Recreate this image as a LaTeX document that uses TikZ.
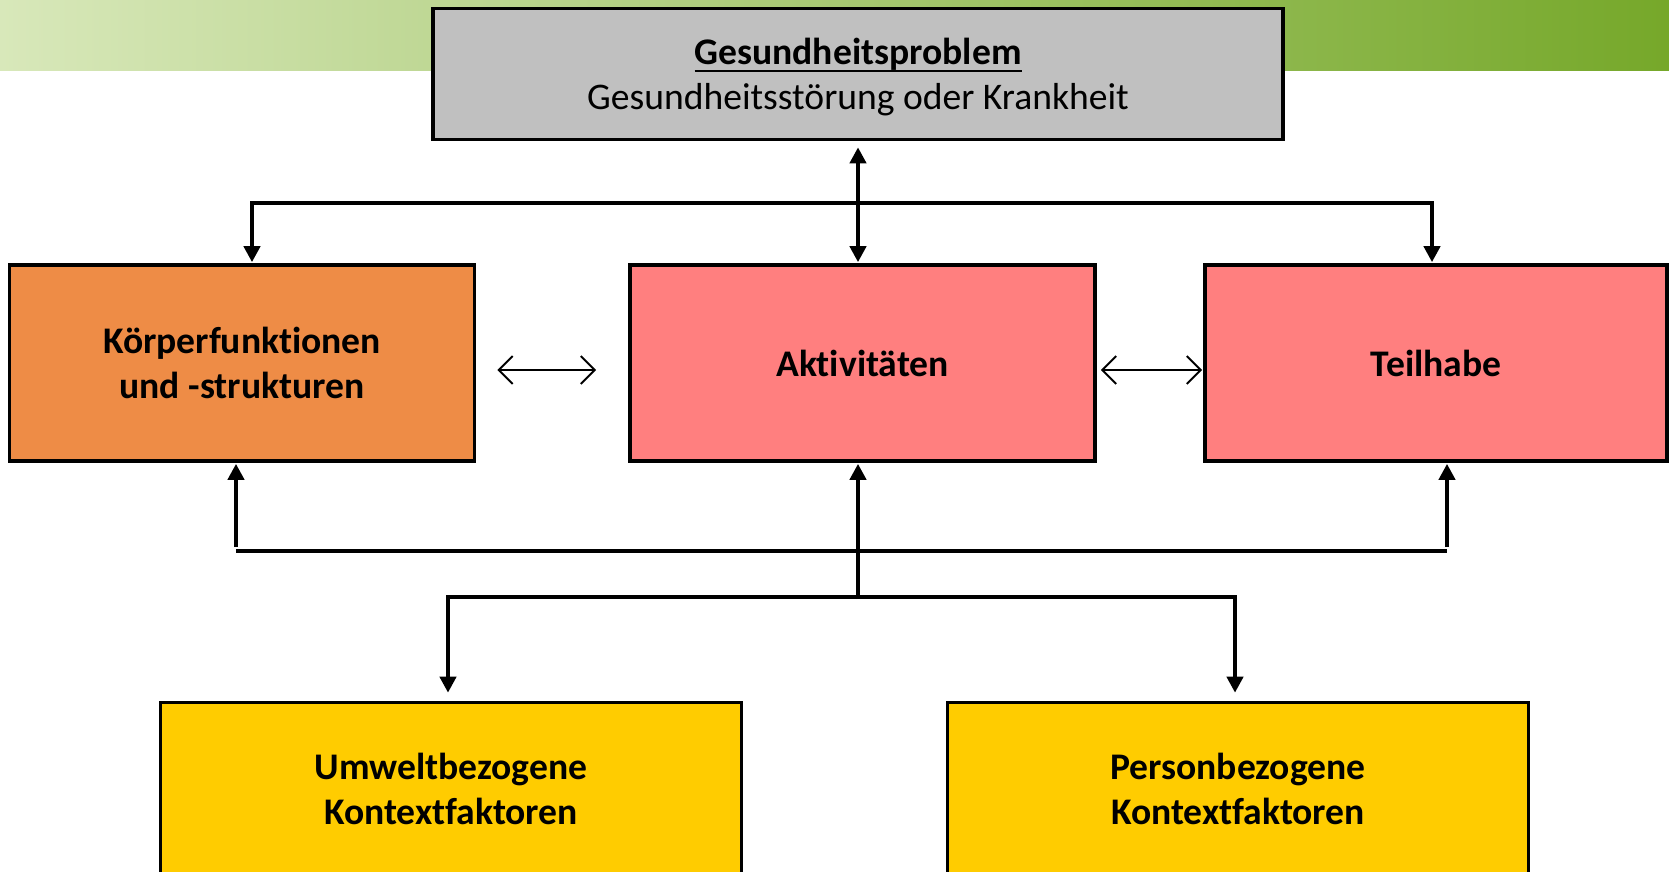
\documentclass[tikz,border=0pt]{standalone}
\usepackage{fontspec}
\setmainfont[Ligatures=CommonOff]{Carlito}
\usetikzlibrary{arrows.meta}
\definecolor{grayfill}{HTML}{C0C0C0}
\definecolor{orangefill}{HTML}{EE8C46}
\definecolor{pinkfill}{HTML}{FF7F7F}
\definecolor{yellowfill}{HTML}{FFCC00}
\definecolor{bannerL}{HTML}{D8E8BA}
\definecolor{bannerR}{HTML}{76A82A}
\newcommand{\myul}[1]{{\setbox0\hbox{#1}\rlap{\rule[-7.5pt]{\wd0}{2pt}}\box0}}
\begin{document}
\begin{tikzpicture}[x=1pt,y=-1pt,
  box/.style={draw=black, line width=3.6pt, inner sep=0pt, align=center,
    font=\fontsize{37.6}{44.6}\selectfont\bfseries},
  conn/.style={line width=4.7pt, line cap=butt},
  arr/.style={conn, -{Triangle[length=16pt,width=16pt]}},
  darr/.style={conn, {Triangle[length=16pt,width=16pt]}-{Triangle[length=16pt,width=16pt]}},
  harr/.style={line width=2pt, {Straight Barb[length=14pt,width=28pt,line width=2pt]}-{Straight Barb[length=14pt,width=28pt,line width=2pt]}}
]
\useasboundingbox (0,0) rectangle (1669,871);
\shade[left color=bannerL, right color=bannerR] (0,0) rectangle (1669,70);

\node[box, fill=grayfill, minimum width=850pt, minimum height=131pt] (gp) at (858,74) {};
\node[align=center, inner sep=0pt, font=\fontsize{37.6}{45}\selectfont] (gptext) at (858,77.2)
  {\textbf{\myul{Gesundheitsproblem}}\\Gesundheitsstörung oder Krankheit};
\node[box, fill=orangefill, minimum width=465pt, minimum height=196pt] (kf) at (242,363)
  {Körperfunktionen\\und -strukturen};
\node[box, fill=pinkfill, minimum width=465pt, minimum height=196pt] (ak) at (862.5,363)
  {Aktivitäten};
\node[box, fill=pinkfill, minimum width=462pt, minimum height=196pt] (th) at (1436,363)
  {Teilhabe};
\node[box, fill=yellowfill, minimum width=581pt, minimum height=173pt] (uk) at (451,789)
  {Umweltbezogene\\Kontextfaktoren};
\node[box, fill=yellowfill, minimum width=581pt, minimum height=173pt] (pk) at (1238,789)
  {Personbezogene\\Kontextfaktoren};

% top bus
\coordinate (tbus) at (858,203);
\draw[darr, shorten <=6pt, shorten >=1pt] (gp.south) -- (gp.south |- ak.north);
\draw[arr, shorten >=1pt] (tbus) -| ([xshift=10pt]kf.north);
\draw[arr, shorten >=1pt] (tbus) -| ([xshift=-4pt]th.north);

% side arrows
\draw[harr, shorten <=21pt, shorten >=32pt] ([yshift=-7pt]kf.east) -- ([yshift=-7pt]ak.west);
\draw[harr, shorten <=4pt, shorten >=1pt] ([yshift=-7pt]ak.east) -- ([yshift=-7pt]th.west);

% bottom bus
\coordinate (bl) at (236,551);
\coordinate (br) at (1447,551);
\draw[conn] (bl) -- (br);
\draw[arr, shorten >=1pt] ([yshift=4pt]bl) -- (bl |- kf.south);
\draw[arr, shorten >=1pt] ([yshift=4pt]br) -- (br |- th.south);

% context hub
\coordinate (hub) at (858,597);
\draw[arr, shorten >=1pt] ([yshift=-2pt]hub) -- (hub |- ak.south);
\draw[arr, shorten >=8pt] (hub) -| ([xshift=-3pt]uk.north);
\draw[arr, shorten >=8pt] (hub) -| ([xshift=-3pt]pk.north);
\end{tikzpicture}
\end{document}
